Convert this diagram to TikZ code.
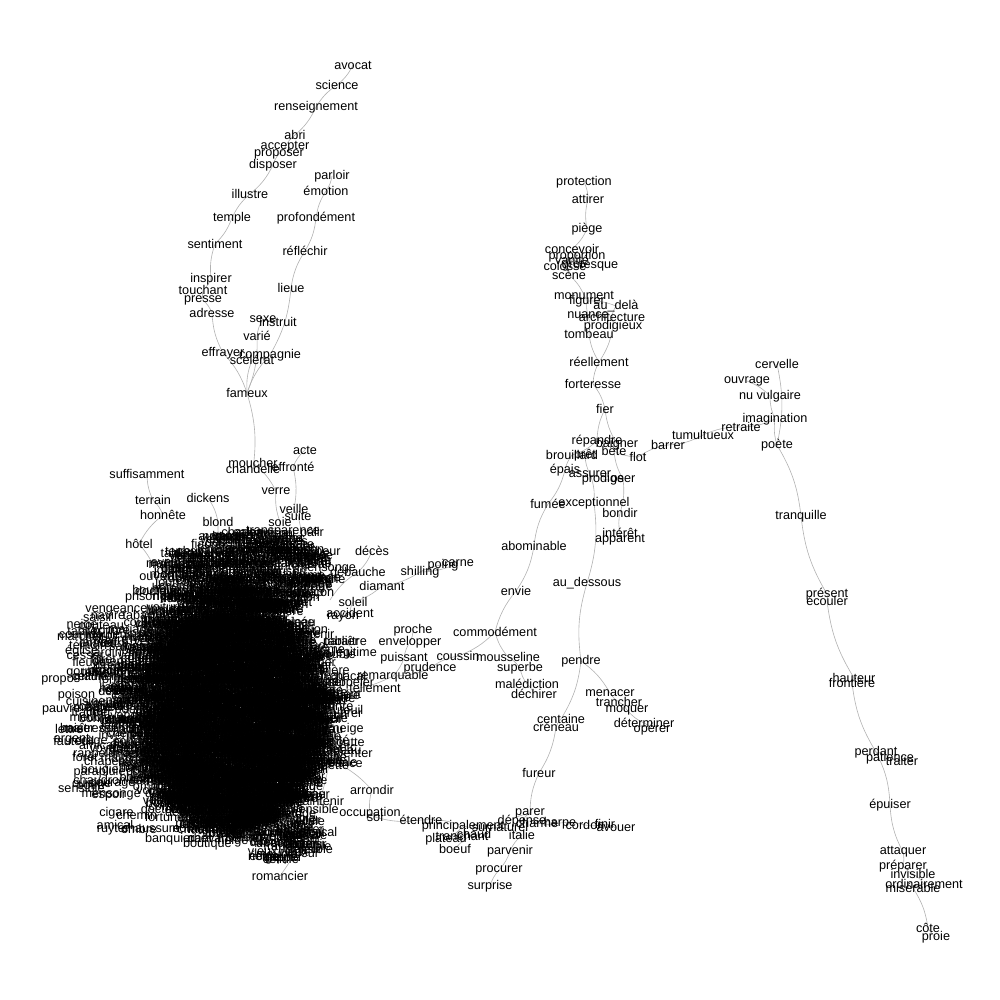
\documentclass[tikz,border=0pt]{standalone}
\usepackage{fontspec}
\setmainfont{Liberation Sans}
\pgfdeclarelayer{bg}
\pgfsetlayers{bg,main}
\newcommand\wf{\fontsize{7.2}{8}\selectfont}
\def\wordsA{chaumière, lunette, vapeur, rideau, marchand, orgueil, chemin, voiture, fenêtre, lettre, bouteille, cheval, journal, baron, capitaine, chapeau, gentleman, misère, prison, avenue, boutique, soupçon, terreur, cadavre, crime, police, vengeance, docteur, maîtresse, mariage, escalier, lumière, ombre, silence, jardin, salon, matin, fleuve, navire, voyage, château, église, argent, fortune, héritage, secret, mystère, regard, sourire, larme, colère, douleur, bonheur, espoir, courage, honneur, devoir, vérité, mensonge, jalousie, orage, montagne, forêt, rivière, désert, grenier, cuisine, cheminée, horloge, miroir, tableau, plume, bougie, lampe, serrure, couteau, pistolet, poison, murmure, chaussure, chaudron, habitude, fauteuil, tabac, cigare, gazette, domestique, cocher, fiacre, auberge, hôtelier, banquier, notaire, procès, témoin, complice, parapluie, manteau, dentelle, velours}
\def\wordsS{rappeler, forme, direction, cesser, cellule, meuble, amical, chacal, laitue, dîner, propos, tablier, neige, valeur, école, inventer, maintenir, col, sensible, baiser, goutte, dormir, marcher, pauvre, vieux, tirer, frapper, courir, saisir, boire}
\begin{document}
\begin{tikzpicture}[x=0.2mm,y=-0.2mm,
  w/.style={inner sep=0pt, font=\wf, text=black},
  e/.style={draw=black!30, line width=0.35pt}]
\useasboundingbox (0,0) rectangle (1000,1000);

% ---------- top-left branch
\node[w] (avocat) at (353,65) {avocat};
\node[w] (science) at (337,85) {science};
\node[w] (renseign) at (316,107) {renseignement};
\node[w] (abri) at (295,135) {abri};
\node[w] (accepter) at (285,147) {accepter};
\node[w] (proposer) at (279,154) {proposer};
\node[w] (disposer) at (273,165) {disposer};
\node[w] (parloir) at (332,176) {parloir};
\node[w] (emotion) at (326,191) {émotion};
\node[w] (illustre) at (250,194) {illustre};
\node[w] (temple) at (232,218) {temple};
\node[w] (profond) at (316,218) {profondément};
\node[w] (sentiment) at (215,244) {sentiment};
\node[w] (reflechir) at (305,251) {réfléchir};
\node[w] (inspirer) at (211,279) {inspirer};
\node[w] (touchant) at (203,290) {touchant};
\node[w] (presse) at (203,300) {presse};
\node[w] (lieue) at (291,288) {lieue};
\node[w] (adresse) at (212,313) {adresse};
\node[w] (sexe) at (263,319) {sexe};
\node[w] (instruit) at (278,322) {instruit};
\node[w] (varie) at (257,336) {varié};
\node[w] (effrayer) at (223,353) {effrayer};
\node[w] (compagnie) at (270,355) {compagnie};
\node[w] (scelerat) at (252,360) {scélérat};
\node[w] (fameux) at (247,393) {fameux};

% ---------- above cluster
\node[w] (acte) at (305,450) {acte};
\node[w] (moucher) at (253,463) {moucher};
\node[w] (chandelle) at (253,469) {chandelle};
\node[w] (effronte) at (293,467) {effronté};
\node[w] (suffis) at (147,474) {suffisamment};
\node[w] (verre) at (276,491) {verre};
\node[w] (terrain) at (153,500) {terrain};
\node[w] (dickens) at (208,498) {dickens};
\node[w] (honnete) at (163,515) {honnête};
\node[w] (veille) at (294,509) {veille};
\node[w] (suite) at (298,516) {suite};
\node[w] (blond) at (218,522) {blond};
\node[w] (soie) at (280,522) {soie};
\node[w] (palir) at (312,533) {pâlir};
\node[w] (transp) at (283,532) {transparence};
\node[w] (escalader) at (287,546) {escalader};
\node[w] (hotel) at (139,544) {hôtel};
\node[w] (recomp) at (298,556) {récompense};
\node[w] (ouvert) at (157,576) {ouvert};

% ---------- right of cluster
\node[w] (deces) at (372,551) {décès};
\node[w] (debauche) at (358,572) {débauche};
\node[w] (shilling) at (420,572) {shilling};
\node[w] (poing) at (443,565) {poing};
\node[w] (carne) at (458,563) {carne};
\node[w] (diamant) at (382,586) {diamant};
\node[w] (soleil) at (353,602) {soleil};
\node[w] (accident) at (350,613) {accident};
\node[w] (rayon) at (343,617) {rayon};
\node[w] (proche) at (413,630) {proche};
\node[w] (envelopper) at (410,642) {envelopper};
\node[w] (paraitre) at (345,642) {paraître};
\node[w] (legitime) at (355,653) {légitime};
\node[w] (puissant) at (404,658) {puissant};
\node[w] (prudence) at (430,668) {prudence};
\node[w] (remarq) at (393,676) {remarquable};
\node[w] (tellement) at (375,688) {tellement};
\node[w] (etc) at (348,747) {etc};
\node[w] (inventer) at (350,753) {inventer};
\node[w] (arrondir) at (372,790) {arrondir};
\node[w] (maintenir) at (318,801) {maintenir};
\node[w] (occupation) at (370,813) {occupation};
\node[w] (sol) at (375,817) {sol};

% ---------- middle
\node[w] (coussin) at (458,656) {coussin};
\node[w] (mousseline) at (508,657) {mousseline};
\node[w] (commod) at (495,632) {commodément};
\node[w] (superbe) at (520,668) {superbe};
\node[w] (malediction) at (527,684) {malédiction};
\node[w] (dechirer) at (534,694) {déchirer};
\node[w] (envie) at (516,591) {envie};
\node[w] (abomin) at (534,546) {abominable};
\node[w] (fumee) at (548,504) {fumée};
\node[w] (exception) at (594,503) {exceptionnel};
\node[w] (bondir) at (620,513) {bondir};
\node[w] (interet) at (620,533) {intérêt};
\node[w] (apparent) at (620,540) {apparent};
\node[w] (audessous) at (587,583) {au\_dessous};
\node[w] (pendre) at (581,661) {pendre};
\node[w] (menacer) at (610,693) {menacer};
\node[w] (trancher) at (619,702) {trancher};
\node[w] (moquer) at (627,710) {moquer};
\node[w] (determiner) at (644,723) {déterminer};
\node[w] (operer) at (652,729) {opérer};
\node[w] (centaine) at (561,719) {centaine};
\node[w] (creneau) at (556,727) {créneau};
\node[w] (fureur) at (539,773) {fureur};
\node[w] (parer) at (530,813) {parer};
\node[w] (depense) at (522,821) {dépense};
\node[w] (charme) at (537,823) {charme};
\node[w] (harpe) at (560,823) {harpe};
\node[w] (cordon) at (585,825) {cordon};
\node[w] (finir) at (605,824) {finir};
\node[w] (avouer) at (616,828) {avouer};
\node[w] (etendre) at (421,820) {étendre};
\node[w] (principal) at (463,826) {principalement};
\node[w] (surnat) at (500,827) {surnaturel};
\node[w] (italie) at (522,835) {italie};
\node[w] (plateau) at (446,839) {plateau};
\node[w] (tranchant) at (462,836) {tranchant};
\node[w] (chaud) at (474,834) {chaud};
\node[w] (boeuf) at (455,849) {boeuf};
\node[w] (parvenir) at (510,851) {parvenir};
\node[w] (procurer) at (499,870) {procurer};
\node[w] (surprise) at (490,886) {surprise};

% ---------- right-top branch
\node[w] (protection) at (584,182) {protection};
\node[w] (attirer) at (588,199) {attirer};
\node[w] (piege) at (587,229) {piège};
\node[w] (concevoir) at (572,249) {concevoir};
\node[w] (proportion) at (577,256) {proportion};
\node[w] (vanite) at (572,260) {vanité};
\node[w] (colosse) at (565,266) {colosse};
\node[w] (grotesque) at (590,266) {grotesque};
\node[w] (scene) at (569,275) {scène};
\node[w] (monument) at (584,295) {monument};
\node[w] (figurer) at (587,301) {figurer};
\node[w] (audela) at (616,306) {au\_delà};
\node[w] (nuance) at (588,315) {nuance};
\node[w] (architecture) at (612,317) {architecture};
\node[w] (prodigieux) at (613,326) {prodigieux};
\node[w] (tombeau) at (589,334) {tombeau};
\node[w] (reellement) at (599,362) {réellement};
\node[w] (forteresse) at (593,384) {forteresse};
\node[w] (fier) at (605,409) {fier};
\node[w] (repandre) at (597,441) {répandre};
\node[w] (baigner) at (617,444) {baigner};
\node[w] (bete) at (614,451) {bête};
\node[w] (flot) at (638,457) {flot};
\node[w] (barrer) at (668,445) {barrer};
\node[w] (tumult) at (703,435) {tumultueux};
\node[w] (brouillard) at (572,455) {brouillard};
\node[w] (pret) at (585,455) {prêt};
\node[w] (epais) at (565,470) {épais};
\node[w] (assurer) at (590,474) {assurer};
\node[w] (prodige) at (603,479) {prodige};
\node[w] (oser) at (623,479) {oser};

% ---------- far right branch
\node[w] (cervelle) at (777,364) {cervelle};
\node[w] (ouvrage) at (747,381) {ouvrage};
\node[w] (nuvulg) at (770,396) {nu vulgaire};
\node[w] (imagin) at (775,419) {imagination};
\node[w] (retraite) at (741,427) {retraite};
\node[w] (poete) at (777,445) {poète};
\node[w] (tranq) at (801,516) {tranquille};
\node[w] (present) at (827,594) {présent};
\node[w] (ecouler) at (827,601) {écouler};
\node[w] (hauteur) at (854,678) {hauteur};
\node[w] (frontiere) at (852,683) {frontière};
\node[w] (perdant) at (876,752) {perdant};
\node[w] (patience) at (890,758) {patience};
\node[w] (traiter) at (902,761) {traiter};
\node[w] (epuiser) at (890,805) {épuiser};
\node[w] (attaquer) at (903,852) {attaquer};
\node[w] (preparer) at (903,866) {préparer};
\node[w] (invisible) at (913,874) {invisible};
\node[w] (ordin) at (924,884) {ordinairement};
\node[w] (miserable) at (913,888) {misérable};
\node[w] (cote) at (928,928) {côte};
\node[w] (proie) at (936,937) {proie};

% ---------- dense cluster (overprinted words)
\coordinate (cA) at (272,560);
\coordinate (cB) at (300,560);
\coordinate (cC) at (170,600);
\coordinate (cD) at (225,560);
\coordinate (cE) at (330,600);
\coordinate (cF) at (330,760);
\coordinate (cG) at (340,690);
\pgfmathsetseed{42}
\foreach \k in {1,2,3}{
  \foreach \w [count=\i] in \wordsA {
    \pgfmathsetmacro\ang{360*rnd}
    \pgfmathsetmacro\rr{sqrt(rnd)}
    \node[w] (ra\k-\i) at ({205+140*\rr*cos(\ang)},{710+135*\rr*sin(\ang)}) {\w};
  }
}
\foreach \k in {1,...,8}{
  \foreach \w [count=\i] in \wordsA {
    \pgfmathsetmacro\ang{360*rnd}
    \pgfmathsetmacro\rr{sqrt(rnd)}
    \node[w] (rk\k-\i) at ({226+98*\rr*cos(\ang)},{708+125*\rr*sin(\ang)}) {\w};
  }
}
\foreach \k in {1,...,10}{
  \foreach \w [count=\i] in \wordsA {
    \pgfmathsetmacro\ang{360*rnd}
    \pgfmathsetmacro\rr{sqrt(rnd)}
    \node[w] (rm\k-\i) at ({235+80*\rr*cos(\ang)},{718+108*\rr*sin(\ang)}) {\w};
  }
}
\foreach \k in {1,2}{
  \foreach \w [count=\i] in \wordsA {
    \pgfmathsetmacro\ang{360*rnd}
    \pgfmathsetmacro\rr{sqrt(rnd)}
    \node[w] (rb\k-\i) at ({250+80*\rr*cos(\ang)},{570+40*\rr*sin(\ang)}) {\w};
  }
}
\foreach \k in {1,2}{
  \foreach \w [count=\i] in \wordsS {
    \pgfmathsetmacro\ang{360*rnd}
    \pgfmathsetmacro\rr{sqrt(rnd)}
    \node[w] (rc\k-\i) at ({275+45*\rr*cos(\ang)},{835+25*\rr*sin(\ang)}) {\w};
  }
}
\foreach \w [count=\i] in \wordsS {
  \pgfmathsetmacro\ang{360*rnd}
  \pgfmathsetmacro\rr{sqrt(rnd)}
  \node[w] (rd-\i) at ({318+35*\rr*cos(\ang)},{705+105*\rr*sin(\ang)}) {\w};
}
\foreach \w [count=\i] in \wordsS {
  \pgfmathsetmacro\ang{360*rnd}
  \pgfmathsetmacro\rr{sqrt(rnd)}
  \node[w] (re-\i) at ({95+40*\rr*cos(\ang)},{710+95*\rr*sin(\ang)}) {\w};
}
\node[w] (riant) at (200,838) {riant};
\node[w] (romancier) at (280,876) {romancier};
\node[w] (amical) at (115,825) {amical};
\node[w] (ruyter) at (113,830) {ruyter};

% ---------- connectors
\begin{pgfonlayer}{bg}
\foreach \a/\b in {avocat/science, renseign/abri, accepter/proposer, disposer/illustre, temple/sentiment, inspirer/touchant, presse/adresse, effrayer/fameux, parloir/emotion, profond/reflechir, lieue/compagnie, instruit/sexe, varie/fameux, fameux/chandelle, moucher/verre, soie/cA, effronte/veille, suite/cB, terrain/honnete, hotel/ouvert, dickens/blond, deces/debauche, shilling/diamant, carne/shilling, diamant/soleil, proche/envelopper, puissant/remarq, prudence/coussin, commod/envie, abomin/fumee, epais/brouillard, repandre/fier, baigner/bete, flot/barrer, tumult/retraite, imagin/nuvulg, cervelle/poete, poete/tranq, present/ecouler, hauteur/frontiere, perdant/patience, perdant/epuiser, attaquer/preparer, invisible/ordin, miserable/cote, protection/attirer, piege/concevoir, proportion/vanite, colosse/scene, scene/monument, figurer/audela, architecture/prodigieux, nuance/tombeau, prodigieux/reellement, forteresse/fier, assurer/exception, oser/bondir, exception/audessous, interet/apparent, pendre/centaine, creneau/fureur, pendre/menacer, trancher/moquer, determiner/operer, mousseline/superbe, malediction/dechirer, depense/charme, harpe/cordon, finir/avouer, surnat/principal, etendre/sol, occupation/arrondir, surnat/italie, parvenir/procurer, principal/plateau, tranchant/chaud, paraitre/legitime, accident/rayon, remarq/cG, riant/cC}
  \draw[e] (\a.center) to[bend left=12] (\b.center);
\foreach \a/\b in {science/renseign, abri/accepter, proposer/disposer, illustre/temple, sentiment/inspirer, touchant/presse, adresse/effrayer, emotion/profond, reflechir/lieue, compagnie/fameux, sexe/varie, scelerat/fameux, chandelle/moucher, verre/soie, acte/effronte, veille/suite, suffis/terrain, honnete/hotel, ouvert/cC, blond/cD, debauche/cE, poing/shilling, envelopper/puissant, remarq/prudence, coussin/commod, envie/abomin, fumee/epais, brouillard/repandre, fier/baigner, bete/flot, barrer/tumult, retraite/imagin, nuvulg/ouvrage, imagin/poete, tranq/present, ecouler/hauteur, frontiere/perdant, patience/traiter, epuiser/attaquer, preparer/invisible, ordin/miserable, cote/proie, attirer/piege, concevoir/proportion, vanite/colosse, grotesque/vanite, monument/figurer, audela/architecture, figurer/nuance, tombeau/reellement, reellement/forteresse, pret/assurer, prodige/oser, bete/oser, bondir/interet, audessous/pendre, centaine/creneau, fureur/parer, menacer/trancher, moquer/determiner, commod/mousseline, superbe/malediction, parer/depense, charme/harpe, cordon/finir, parer/surnat, principal/etendre, sol/occupation, arrondir/cF, italie/parvenir, procurer/surprise, plateau/tranchant, chaud/boeuf, soleil/accident, romancier/cF}
  \draw[e] (\a.center) to[bend right=12] (\b.center);
\end{pgfonlayer}
\end{tikzpicture}
\end{document}
